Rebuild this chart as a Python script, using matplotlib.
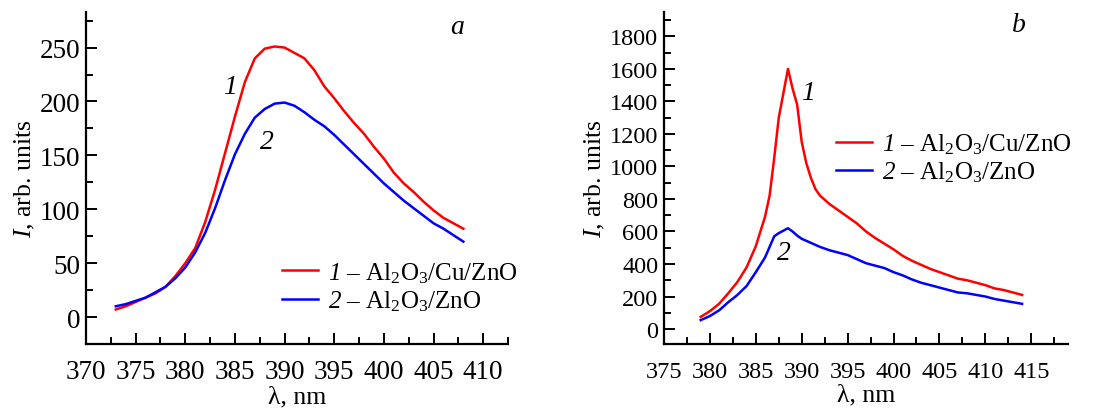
import matplotlib
matplotlib.use("Agg")
import matplotlib.pyplot as plt
from matplotlib.ticker import MultipleLocator

plt.rcParams['font.family'] = ['Liberation Serif', 'DejaVu Serif']
plt.rcParams['mathtext.fontset'] = 'custom'
plt.rcParams['mathtext.rm'] = 'Liberation Serif'
plt.rcParams['mathtext.it'] = 'Liberation Serif:italic'
plt.rcParams['mathtext.sf'] = 'Liberation Serif:italic'

# ---- panel a data ----
wl_a = [373, 374, 375, 376, 377, 378, 379, 380, 381, 382, 383, 384, 385, 386, 387, 388, 389, 390,
        391, 392, 393, 394, 395, 396, 397, 398, 399, 400, 401, 402, 403, 404, 405, 406, 407, 408]
a_cu = [7, 10, 14, 18, 22, 28, 38, 50, 64, 88, 118, 152, 186, 218, 240, 249, 251, 250,
        245, 240, 229, 214, 203, 191, 180, 170, 158, 147, 134, 124, 116, 107, 99, 92, 87, 82]
a_zno = [10, 12, 15, 18, 23, 28, 36, 46, 60, 78, 101, 127, 151, 170, 185, 193, 198, 199,
         196, 190, 183, 177, 169, 160, 151, 142, 133, 124, 116, 108, 101, 94, 87, 82, 76, 70]

# ---- panel b data ----
wl_b1 = [379, 380, 381, 382, 383, 384, 385, 386, 386.5, 387, 387.5, 388, 388.5, 389, 389.5, 390,
         390.5, 391, 391.5, 392, 393, 394, 395, 396, 397, 398, 399, 400, 401, 402, 403, 404,
         405, 406, 407, 408, 409, 410, 411, 412, 413, 414]
b_cu = [75, 110, 155, 220, 290, 380, 510, 690, 820, 1050, 1300, 1450, 1600, 1480, 1380, 1150,
        1020, 930, 860, 820, 770, 730, 690, 650, 600, 560, 525, 490, 450, 420, 395, 370,
        350, 330, 310, 300, 285, 270, 250, 240, 225, 210]
wl_b2 = [379, 380, 381, 382, 383, 384, 385, 386, 387, 387.5, 388, 388.5, 389, 389.5, 390, 391,
         392, 393, 394, 395, 396, 397, 398, 399, 400, 401, 402, 403, 404, 405, 406, 407, 408,
         409, 410, 411, 412, 413, 414]
b_zno = [55, 80, 115, 165, 210, 265, 350, 440, 570, 590, 605, 620, 600, 575, 555, 530,
         505, 485, 470, 455, 430, 405, 390, 375, 350, 330, 305, 285, 270, 255, 240, 225, 220,
         210, 200, 185, 175, 165, 155]

lbl1 = r'$\mathsf{1}$ – Al$_2$O$_3$/Cu/ZnO'
lbl2 = r'$\mathsf{2}$ – Al$_2$O$_3$/ZnO'
RED = '#ff0000'
BLUE = '#0000ff'
FS_LAB = 18.5
FS_LEG = 18

fig = plt.figure(figsize=(11.02, 4.10), dpi=100)
axa = fig.add_axes([86/1102, 1-345/410, (508-86)/1102, (345-13)/410])
axb = fig.add_axes([664/1102, 1-345/410, (1068-664)/1102, (345-13)/410])

def style(ax, fs_tick, xpad):
    for s in ['top', 'right']:
        ax.spines[s].set_visible(False)
    for s in ['left', 'bottom']:
        ax.spines[s].set_linewidth(1.6)
    ax.tick_params(which='both', direction='in', width=1.4, labelsize=fs_tick)
    ax.tick_params(which='major', length=8, pad=4)
    ax.tick_params(axis='x', which='major', pad=xpad)
    ax.tick_params(which='minor', length=5)
    ax.set_xlabel('λ, nm', fontsize=FS_LAB, labelpad=1)
    ax.set_ylabel(r'$\mathit{I}$, arb. units', fontsize=FS_LAB, labelpad=2)

axa.plot(wl_a, a_cu, color=RED, lw=1.8, label=lbl1)
axa.plot(wl_a, a_zno, color=BLUE, lw=1.8, label=lbl2)
axa.set_xlim(370, 412.5)
axa.set_ylim(-25, 283)
axa.xaxis.set_major_locator(MultipleLocator(5))
axa.xaxis.set_minor_locator(MultipleLocator(2.5))
axa.yaxis.set_major_locator(MultipleLocator(50))
axa.yaxis.set_minor_locator(MultipleLocator(25))
style(axa, 19.5, 11)
axa.text(457/1102, 1-27/410, 'a', transform=fig.transFigure, fontsize=20, style='italic', ha='center', va='center')
axa.text(230/1102, 1-87/410, '1', transform=fig.transFigure, fontsize=20, style='italic', ha='center', va='center')
axa.text(267/1102, 1-143/410, '2', transform=fig.transFigure, fontsize=20, style='italic', ha='center', va='center')
axa.legend(loc='center left', bbox_to_anchor=(282/1102, 1-287.5/410), bbox_transform=fig.transFigure,
           frameon=False, fontsize=FS_LEG, handlelength=1.45, handletextpad=0.4, borderpad=0,
           borderaxespad=0, labelspacing=0.15)

axb.plot(wl_b1, b_cu, color=RED, lw=1.8, label=lbl1)
axb.plot(wl_b2, b_zno, color=BLUE, lw=1.8, label=lbl2)
axb.set_xlim(375, 419)
axb.set_ylim(-92, 1950)
axb.xaxis.set_major_locator(MultipleLocator(5))
axb.xaxis.set_minor_locator(MultipleLocator(2.5))
axb.yaxis.set_major_locator(MultipleLocator(200))
axb.yaxis.set_minor_locator(MultipleLocator(100))
style(axb, 17.5, 12)
axb.text(1019/1102, 1-25/410, 'b', transform=fig.transFigure, fontsize=20, style='italic', ha='center', va='center')
axb.text(808/1102, 1-93/410, '1', transform=fig.transFigure, fontsize=20, style='italic', ha='center', va='center')
axb.text(784/1102, 1-253/410, '2', transform=fig.transFigure, fontsize=20, style='italic', ha='center', va='center')
axb.legend(loc='center left', bbox_to_anchor=(836/1102, 1-159/410), bbox_transform=fig.transFigure,
           frameon=False, fontsize=FS_LEG, handlelength=1.45, handletextpad=0.4, borderpad=0,
           borderaxespad=0, labelspacing=0.15)

fig.savefig('out.png', dpi=100)
